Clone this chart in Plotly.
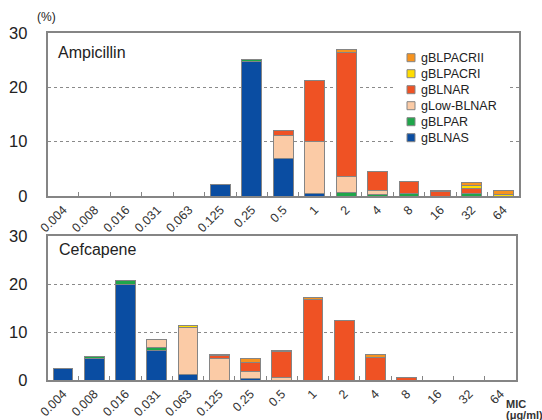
import plotly.graph_objects as go

categories = ["0.004", "0.008", "0.016", "0.031", "0.063", "0.125", "0.25", "0.5",
              "1", "2", "4", "8", "16", "32", "64"]

series_names = ["gBLNAS", "gBLPAR", "gLow-BLNAR", "gBLNAR", "gBLPACRI", "gBLPACRII"]
series_colors = ["#0A4DA2", "#1FA64A", "#FBCBA6", "#EF5224", "#FFDD00", "#F7931E"]

# Ampicillin (%)
amp_gBLNAS     = [0, 0, 0, 0, 0, 2.2, 24.8, 6.9, 0.4, 0, 0, 0, 0, 0, 0]
amp_gBLPAR     = [0, 0, 0, 0, 0, 0, 0.3, 0, 0, 0.6, 0.35, 0.55, 0, 0.45, 0]
amp_gLowBLNAR  = [0, 0, 0, 0, 0, 0, 0, 4.3, 9.7, 2.9, 0.6, 0, 0, 0, 0]
amp_gBLNAR     = [0, 0, 0, 0, 0, 0, 0, 0.8, 11.1, 23.0, 3.65, 2.15, 0.8, 0.9, 0]
amp_gBLPACRI   = [0, 0, 0, 0, 0, 0, 0, 0, 0, 0, 0, 0, 0, 0.55, 0.25]
amp_gBLPACRII  = [0, 0, 0, 0, 0, 0, 0, 0, 0, 0.4, 0, 0, 0.3, 0.6, 0.8]

# Cefcapene (%)
cef_gBLNAS     = [2.4, 4.45, 20.0, 6.25, 1.05, 0, 0.3, 0, 0, 0, 0, 0, 0, 0, 0]
cef_gBLPAR     = [0, 0.4, 0.8, 0.6, 0, 0, 0, 0, 0, 0, 0, 0, 0, 0, 0]
cef_gLowBLNAR  = [0, 0, 0, 1.65, 9.9, 4.5, 1.4, 0.5, 0, 0, 0, 0, 0, 0, 0]
cef_gBLNAR     = [0, 0, 0, 0, 0, 0.7, 2.0, 5.4, 16.7, 12.35, 4.7, 0.55, 0, 0, 0]
cef_gBLPACRI   = [0, 0, 0, 0, 0.5, 0, 0, 0, 0, 0, 0, 0, 0, 0, 0]
cef_gBLPACRII  = [0, 0, 0, 0, 0, 0.2, 0.7, 0.35, 0.5, 0, 0.7, 0, 0, 0, 0]

y_ticks = [0, 10, 20, 30]

amp_series = [amp_gBLNAS, amp_gBLPAR, amp_gLowBLNAR, amp_gBLNAR, amp_gBLPACRI, amp_gBLPACRII]
cef_series = [cef_gBLNAS, cef_gBLPAR, cef_gLowBLNAR, cef_gBLNAR, cef_gBLPACRI, cef_gBLPACRII]

W, H = 542, 420
FONT = "Arial, Liberation Sans, sans-serif"
EDGE = "#858585"

fig = go.Figure()
for name, color, vals in zip(series_names, series_colors, amp_series):
    fig.add_trace(go.Bar(x=categories, y=vals, name=name, marker_color=color,
                         marker_line_color=EDGE, marker_line_width=1,
                         xaxis="x", yaxis="y", showlegend=False))
for name, color, vals in zip(series_names, series_colors, cef_series):
    fig.add_trace(go.Bar(x=categories, y=vals, name=name, marker_color=color,
                         marker_line_color=EDGE, marker_line_width=1,
                         xaxis="x2", yaxis="y2", showlegend=False))

def px_x(p):
    return p / W

def px_y(p):
    return 1 - p / H

common_x = dict(type="category", categoryorder="array", categoryarray=categories,
                showline=True, mirror=True, linecolor=EDGE, linewidth=1.5,
                ticks="inside", tickson="boundaries", ticklen=4, tickcolor=EDGE, tickwidth=1,
                tickangle=-45, tickfont=dict(family=FONT, size=12.5, color="#333"),
                showgrid=False, fixedrange=True, automargin=False)
common_y = dict(range=[0, 30], tickvals=y_ticks, showline=True, mirror=True,
                linecolor=EDGE, linewidth=1.5, ticks="outside", ticklen=15,
                tickcolor="rgba(0,0,0,0)",
                showgrid=True, gridcolor="#8a8a8a", griddash="dot", gridwidth=1,
                zeroline=False, tickfont=dict(family=FONT, size=16.5, color="#222"),
                fixedrange=True, automargin=False)

fig.update_layout(
    width=W, height=H,
    margin=dict(l=0, r=0, t=0, b=0),
    paper_bgcolor="white", plot_bgcolor="white",
    barmode="stack", bargap=0.37,
    font=dict(family=FONT, color="#222"),
    xaxis=dict(domain=[px_x(47.5), px_x(519)], anchor="y", **common_x),
    yaxis=dict(domain=[px_y(196), px_y(33)], anchor="x", **common_y),
    xaxis2=dict(domain=[px_x(47.5), px_x(516)], anchor="y2", **common_x),
    yaxis2=dict(domain=[px_y(380), px_y(236)], anchor="x2", **common_y),
    showlegend=False,
)

# Custom legend (inside the Ampicillin panel, top-right)
shapes = [dict(type="rect", xref="paper", yref="paper", layer="above",
               x0=px_x(393), x1=px_x(508), y0=px_y(147), y1=px_y(47),
               fillcolor="white", line=dict(width=0))]
annotations = []
legend_top = 57.7
legend_step = 16
for i, (name, color) in enumerate(zip(reversed(series_names), reversed(series_colors))):
    cy = legend_top + i * legend_step
    shapes.append(dict(type="rect", xref="paper", yref="paper", layer="above",
                       x0=px_x(407), x1=px_x(415), y0=px_y(cy + 4), y1=px_y(cy - 4),
                       fillcolor=color, line=dict(color=EDGE, width=1)))
    annotations.append(dict(text=name, x=px_x(418.5), y=px_y(cy), xanchor="left",
                            yanchor="middle", font=dict(size=12.5, family=FONT, color="#222")))

annotations += [
    dict(text="(%)", x=px_x(35), y=px_y(17), xanchor="left", yanchor="middle",
         font=dict(size=12, family=FONT, color="#222")),
    dict(text="Ampicillin", x=px_x(56), y=px_y(52), xanchor="left", yanchor="middle",
         font=dict(size=16, family=FONT, color="#222")),
    dict(text="Cefcapene", x=px_x(57), y=px_y(249), xanchor="left", yanchor="middle",
         font=dict(size=16, family=FONT, color="#222")),
    dict(text="<b>MIC</b>", x=px_x(504), y=px_y(403.5), xanchor="left",
         yanchor="middle", font=dict(size=11, family=FONT, color="#333")),
    dict(text="<b>(μg/ml)</b>", x=px_x(504), y=px_y(414.5), xanchor="left",
         yanchor="middle", font=dict(size=11, family=FONT, color="#333")),
]
for a in annotations:
    a.update(xref="paper", yref="paper", showarrow=False)
fig.update_layout(annotations=annotations, shapes=shapes)

fig.write_html("out.html",
               config={"displayModeBar": False},
               post_script="document.body.style.margin='0';document.body.style.overflow='hidden';")
